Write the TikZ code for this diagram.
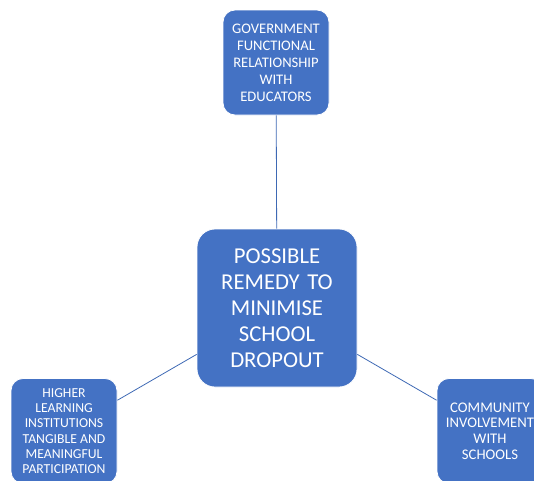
\documentclass[tikz,border=0pt]{standalone}
\usepackage{fontspec}
\setmainfont{Carlito}
\usepackage{xcolor}
\usetikzlibrary{positioning}
\definecolor{boxblue}{HTML}{4472C4}
\definecolor{lineblue}{HTML}{3E69B4}

\begin{document}
\begin{tikzpicture}
  [ x=1pt, y=-1pt,
    idea/.style={rectangle, rounded corners=12pt, fill=boxblue,
      draw=white, line width=0.8pt, text=white, align=center,
      inner sep=2pt, font=\fontsize{14.6}{17}\selectfont,
      minimum width=106pt, minimum height=105pt},
    hub/.style={idea, rounded corners=18pt, text width=150pt,
      font=\fontsize{22.7}{26}\selectfont,
      minimum width=160pt, minimum height=158pt},
    link/.style={draw=lineblue, line width=0.8pt}
  ]
  \useasboundingbox (0,0) rectangle (534,480);

  \node (remedy) at (277,308) [hub]
    {POSSIBLE\\REMEDY TO\\MINIMISE\\SCHOOL\\DROPOUT};
  \node (govt) at (276,62.5) [idea]
    {GOVERNMENT\\FUNCTIONAL\\RELATIONSHIP\\WITH\\EDUCATORS};
  \node (higher) at (64,431) [idea, font=\fontsize{13.7}{15.2}\selectfont]
    {HIGHER\\LEARNING\\INSTITUTIONS\\TANGIBLE AND\\MEANINGFUL\\PARTICIPATION};
  \node (community) at (490,431) [idea, font=\fontsize{14.7}{15.7}\selectfont]
    {COMMUNITY\\INVOLVEMENT\\WITH\\SCHOOLS};

  \draw [link] (remedy) -- (govt);
  \draw [link] (remedy) -- (higher);
  \draw [link] (remedy) -- (community);
\end{tikzpicture}
\end{document}
